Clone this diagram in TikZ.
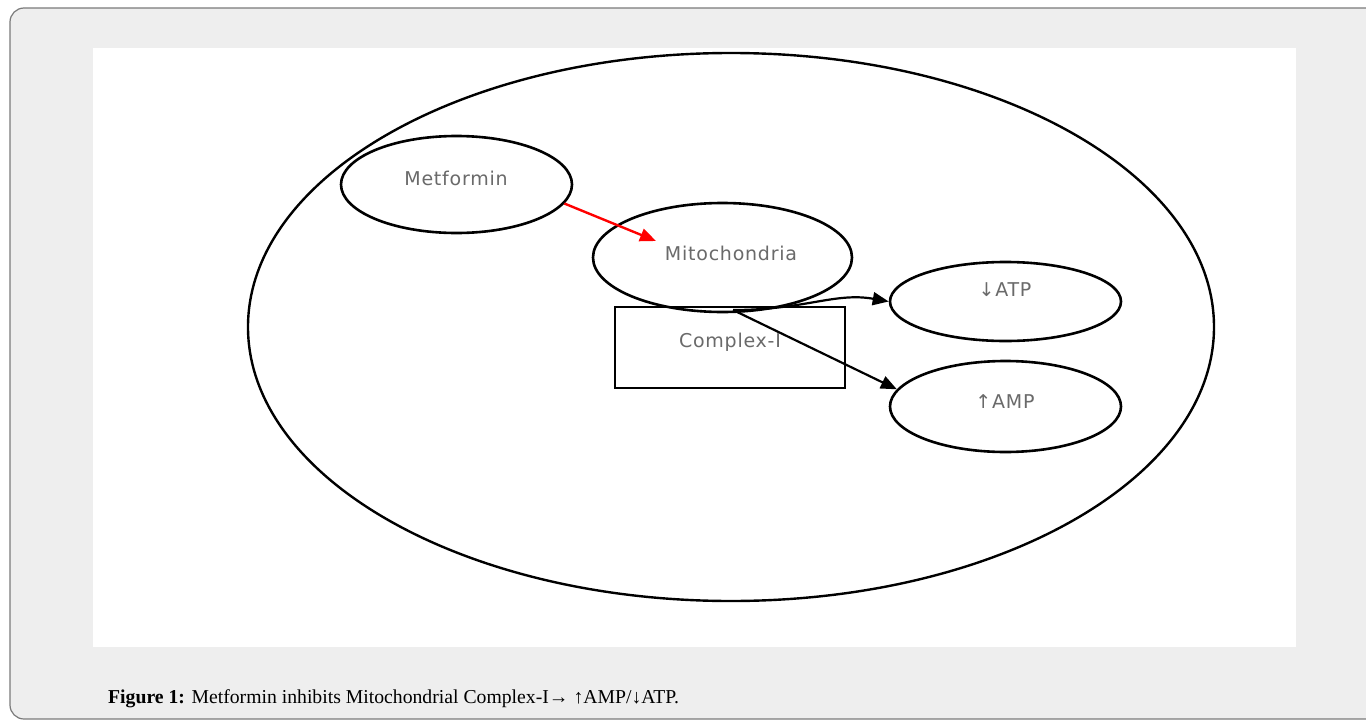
\documentclass[tikz,border=0pt]{standalone}
\usepackage{fontspec}
\setmainfont{Liberation Serif}
\newfontfamily\labelfont[LetterSpace=4]{DejaVu Sans}
\usetikzlibrary{shapes.geometric,arrows.meta,calc}
\definecolor{panelbg}{HTML}{EEEEEE}
\definecolor{panelrule}{HTML}{7A7A7A}
\definecolor{labelgray}{HTML}{6A6A6A}
\begin{document}
\begin{tikzpicture}[x=1pt,y=-1pt,
  blob/.style={ellipse,draw=black,line width=2.6pt,inner sep=0pt},
  boxnode/.style={rectangle,draw=black,line width=2.6pt,inner sep=0pt},
  lbl/.style={font=\labelfont\fontsize{19}{21}\selectfont,text=labelgray},
  flow/.style={line width=2.2pt,-{Triangle[length=16pt,width=13pt]}},
]
\useasboundingbox (0,0) rectangle (1366,720);
% outer panel and white figure area
\draw[panelrule,fill=panelbg,line width=1.2pt,rounded corners=14pt]
  (10,8) rectangle (1390,719);
\fill[white] (93,48) rectangle (1296,647);

% cell outline
\node[ellipse,draw=black,line width=2.4pt,minimum width=966pt,minimum height=548pt]
  (cell) at (731,327) {};

% compartments and readouts
\node[boxnode,minimum width=230pt,minimum height=81pt] (cx) at (730,347.5) {};
\node[blob,minimum width=259pt,minimum height=109pt] (mito) at (722.5,257.5) {};
\node[blob,minimum width=231pt,minimum height=97pt] (met) at (456.5,184.5) {};
\node[blob,minimum width=231pt,minimum height=79pt] (atp) at (1005.5,301.5) {};
\node[blob,minimum width=231pt,minimum height=91pt] (amp) at (1005.5,406.5) {};

% text inside the shapes
\node[lbl] (metlbl) at (456,178) {Metformin};
\node[lbl] (mitolbl) at (731,253) {Mitochondria};
\node[lbl] (cxlbl) at (730,342) {Complex-I};
\node[lbl] (atplbl) at (1005,290) {↓ATP};
\node[lbl] (amplbl) at (1005,402) {↑AMP};

% arrows
\coordinate (mitoin) at (656,241);
\coordinate (split) at (733,310);
\draw[flow,red,line width=2.4pt] (met.-10) -- (mitoin);
\draw[flow] (split) .. controls (805,310) and (835,292) .. (atp.west);
\draw[flow] (split) -- (amp.171);

% caption
\node[anchor=base west,inner sep=0pt,font=\fontsize{19.7}{22}\selectfont] (cap) at (108,703)
  {\textbf{Figure 1:} Metformin inhibits Mitochondrial Complex-I→ ↑AMP/↓ATP.};
\end{tikzpicture}
\end{document}
